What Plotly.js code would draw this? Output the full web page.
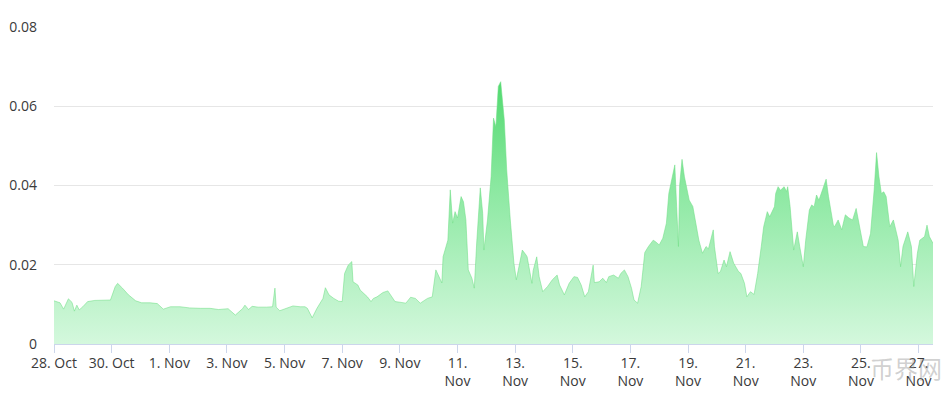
<!DOCTYPE html>
<html>
<head>
<meta charset="utf-8">
<script src="https://cdn.plot.ly/plotly-3.0.1.min.js"></script>
<style>
html,body{margin:0;padding:0;background:#fff;}
#chart{width:948px;height:393px;}
</style>
</head>
<body>
<div id="chart"></div>
<script>
// Hours elapsed since 28 Oct 2018 00:00
const hours = [
0,5,8,12,15,17,19,21,24,28,
34,41,47,51,53,57,62,68,73,80,
86,91,97,105,113,122,130,137,145,151,
157,159,162,165,170,177,182,184,185,188,
194,199,205,209,211,215,219,224,226,229,
233,237,240,242,245,248,249,253,255,258,
261,264,266,269,274,278,281,284,289,293,
297,301,305,311,315,318,320,323,324,328,
330,332,334,336,339,341,343,345,348,350,
352,355,357,358,361,364,366,368,370,372,
375,377,380,383,385,387,390,393,394,398,
399,402,404,407,411,415,419,421,425,429,
433,436,439,442,445,449,450,454,457,460,
462,466,470,472,475,478,481,483,486,489,
492,495,499,501,504,507,510,512,516,517,
518.5,520,521,523,525,529,532,535,537,540,
543,545,549,550,553,555,558,560,563,566,
570,572,575,577,580,583,586,589,591,594,
596,600,601,603,605,608,610,611,613,616,
619,621,624,626,629,631,633,635,637,640,
643,645,649,650,653,656,659,662,665,668,
671,674,677,680,683,685,687,689,691,693,
696,699,701,703,705,707,711,714,716,719,
721,725,727,729,732
];
const values = [
0.0109,0.0104,0.0088,0.0114,0.0105,0.0083,0.0098,0.0086,0.0094,0.0107,
0.0110,0.0111,0.0111,0.0145,0.0153,0.0141,0.0124,0.0109,0.0104,0.0104,
0.0102,0.0088,0.0094,0.0094,0.0091,0.0090,0.0090,0.0087,0.0089,0.0073,
0.0089,0.0098,0.0087,0.0095,0.0093,0.0093,0.0094,0.0141,0.0093,0.0084,
0.0090,0.0096,0.0094,0.0094,0.0090,0.0066,0.0090,0.0115,0.0142,0.0124,
0.0115,0.0108,0.0107,0.0178,0.0199,0.0208,0.0157,0.0149,0.0136,0.0128,
0.0119,0.0107,0.0115,0.0119,0.0130,0.0134,0.0119,0.0107,0.0105,0.0103,
0.0118,0.0115,0.0103,0.0115,0.0119,0.0187,0.0174,0.0154,0.0220,0.0262,
0.0389,0.0305,0.0334,0.0318,0.0372,0.0359,0.0313,0.0187,0.0166,0.0141,
0.0255,0.0394,0.0330,0.0237,0.0313,0.0422,0.0570,0.0548,0.0650,0.0662,
0.0565,0.0439,0.0313,0.0204,0.0162,0.0195,0.0237,0.0225,0.0220,0.0153,
0.0185,0.0220,0.0170,0.0132,0.0145,0.0162,0.0174,0.0149,0.0124,0.0153,
0.0170,0.0168,0.0149,0.0119,0.0132,0.0199,0.0155,0.0157,0.0166,0.0155,
0.0170,0.0174,0.0166,0.0178,0.0187,0.0170,0.0140,0.0111,0.0103,0.0145,
0.0231,0.0246,0.0262,0.0258,0.0250,0.0267,0.0305,0.0380,0.0443,0.0452,
0.0347,0.0246,0.0400,0.0466,0.0422,0.0363,0.0347,0.0296,0.0262,0.0229,
0.0246,0.0240,0.0288,0.0246,0.0178,0.0183,0.0212,0.0195,0.0233,0.0204,
0.0183,0.0178,0.0153,0.0119,0.0132,0.0125,0.0178,0.0246,0.0296,0.0334,
0.0321,0.0347,0.0380,0.0397,0.0388,0.0397,0.0385,0.0397,0.0347,0.0237,
0.0283,0.0246,0.0195,0.0262,0.0338,0.0351,0.0346,0.0376,0.0363,0.0389,
0.0416,0.0372,0.0300,0.0296,0.0313,0.0288,0.0326,0.0318,0.0313,0.0342,
0.0296,0.0246,0.0245,0.0279,0.0389,0.0483,0.0422,0.0380,0.0384,0.0372,
0.0296,0.0313,0.0288,0.0262,0.0195,0.0246,0.0283,0.0246,0.0145,0.0229,
0.0262,0.0271,0.0300,0.0271,0.0254
];
const tickDates = ['2018-10-28','2018-10-30','2018-11-01','2018-11-03','2018-11-05','2018-11-07','2018-11-09',
  '2018-11-11','2018-11-13','2018-11-15','2018-11-17','2018-11-19','2018-11-21','2018-11-23','2018-11-25','2018-11-27'];
const tickLabels = ['28. Oct','30. Oct','1. Nov','3. Nov','5. Nov','7. Nov','9. Nov',
  '11.<br>Nov','13.<br>Nov','15.<br>Nov','17.<br>Nov','19.<br>Nov','21.<br>Nov','23.<br>Nov','25.<br>Nov','27.<br>Nov'];
const yTicks = [0, 0.02, 0.04, 0.06, 0.08];
const yTickLabels = ['0', '0.02', '0.04', '0.06', '0.08'];
const xStart = '2018-10-28 00:00';
const xEnd = '2018-11-27 12:00';

const base = Date.UTC(2018, 9, 28);
function pad(n){ return (n < 10 ? '0' : '') + n; }
function toDate(h){
  const d = new Date(base + h * 3600000);
  return d.getUTCFullYear() + '-' + pad(d.getUTCMonth()+1) + '-' + pad(d.getUTCDate()) + ' ' +
         pad(d.getUTCHours()) + ':' + pad(d.getUTCMinutes());
}
const xs = hours.map(toDate);

const trace = {
  x: xs, y: values, type: 'scatter', mode: 'lines',
  line: {color: 'rgba(110,222,132,0.9)', width: 0.6, shape: 'linear'},
  fill: 'tozeroy',
  fillgradient: {type: 'vertical', start: 0, stop: 0.08,
    colorscale: [[0, 'rgb(212,248,221)'], [0.5, 'rgb(138,232,160)'], [1, 'rgb(52,210,86)']]},
  hoverinfo: 'skip'
};

const font = {family: '"Open Sans", "Noto Sans", sans-serif', size: 14, color: '#3a3a3a'};
const layout = {
  width: 948, height: 393,
  margin: {l: 54, r: 15, t: 27, b: 49},
  paper_bgcolor: '#fff', plot_bgcolor: '#fff',
  showlegend: false,
  font: font,
  xaxis: {
    type: 'date', range: [xStart, xEnd],
    tickmode: 'array', tickvals: tickDates, ticktext: tickLabels,
    ticks: 'outside', ticklen: 8, tickcolor: '#ccd6eb', tickwidth: 1,
    ticklabelstandoff: -2,
    showgrid: false, showline: true, linecolor: '#ccd6eb', linewidth: 1,
    zeroline: false, tickfont: font, fixedrange: true
  },
  yaxis: {
    range: [0, 0.08], tickmode: 'array', tickvals: yTicks, ticktext: yTickLabels,
    showgrid: true, gridcolor: '#e6e6e6', gridwidth: 1,
    zeroline: false, showline: false, ticks: '', ticklabelstandoff: 16,
    tickfont: font, fixedrange: true
  },
  annotations: [{
    xref: 'paper', yref: 'paper', x: 1.013, y: -0.075, xanchor: 'right', yanchor: 'middle',
    text: '币界网', showarrow: false,
    font: {family: '"Noto Sans CJK SC", sans-serif', size: 24, color: 'rgba(150,150,150,0.45)'}
  }]
};

Plotly.newPlot('chart', [trace], layout, {displayModeBar: false, staticPlot: true});
</script>
</body>
</html>
